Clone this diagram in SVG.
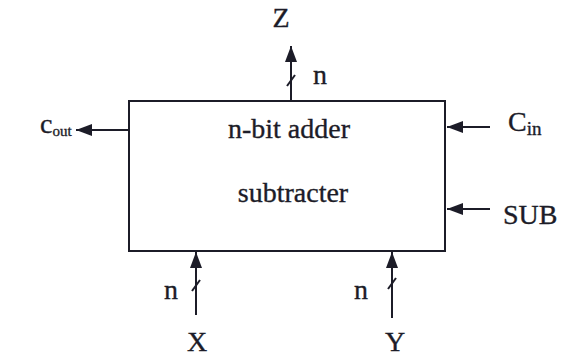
<svg xmlns="http://www.w3.org/2000/svg" width="569" height="357" viewBox="0 0 569 357">
<style>
text{font-family:"Liberation Serif","Times New Roman",serif;fill:#1c1c28;stroke:#1c1c28;stroke-width:0.35}
.lbl{font-size:28px}
.box{fill:#fff;stroke:#1c1c28;stroke-width:2}
.ln{stroke:#1c1c28;stroke-width:2;fill:none}
</style>
<defs>
<marker id="ah" viewBox="0 0 16 12" refX="16" refY="6" markerWidth="16" markerHeight="12" markerUnits="userSpaceOnUse" orient="auto">
<path d="M0,0 L16,6 L0,12 Z" fill="#1c1c28"/>
</marker>
</defs>
<rect width="569" height="357" fill="#fff"/>
<g id="adder">
<rect class="box" x="129" y="101" width="316" height="150"/>
<text class="lbl" x="289" y="138" text-anchor="middle">n-bit adder</text>
<text class="lbl" x="293" y="202" text-anchor="middle">subtracter</text>
</g>
<g id="connectors">
<line class="ln" x1="291" y1="101" x2="291" y2="46" marker-end="url(#ah)"/>
<line class="ln" x1="287" y1="86" x2="295" y2="75"/>
<line class="ln" x1="129" y1="130" x2="76" y2="130" marker-end="url(#ah)"/>
<line class="ln" x1="490" y1="127" x2="447" y2="127" marker-end="url(#ah)"/>
<line class="ln" x1="490" y1="209" x2="447" y2="209" marker-end="url(#ah)"/>
<line class="ln" x1="196" y1="315" x2="196" y2="252" marker-end="url(#ah)"/>
<line class="ln" x1="192" y1="291" x2="200" y2="280"/>
<line class="ln" x1="392" y1="318" x2="392" y2="252" marker-end="url(#ah)"/>
<line class="ln" x1="388" y1="289" x2="396" y2="278"/>
</g>
<g id="Z"><text class="lbl" x="281" y="27" text-anchor="middle">Z</text></g>
<g id="nZ"><text class="lbl" x="313" y="84" font-size="26">n</text></g>
<g id="cout"><text class="lbl" x="40" y="133" font-size="24">c<tspan font-size="15" dy="3">out</tspan></text></g>
<g id="Cin"><text class="lbl" x="508" y="131">C<tspan font-size="19" dy="4">in</tspan></text></g>
<g id="SUB"><text class="lbl" x="503" y="224" font-size="31">SUB</text></g>
<g id="nX"><text class="lbl" x="164" y="299" font-size="26">n</text></g>
<g id="X"><text class="lbl" x="197" y="351" text-anchor="middle">X</text></g>
<g id="nY"><text class="lbl" x="354" y="299" font-size="26">n</text></g>
<g id="Y"><text class="lbl" x="395" y="351" text-anchor="middle">Y</text></g>
</svg>
